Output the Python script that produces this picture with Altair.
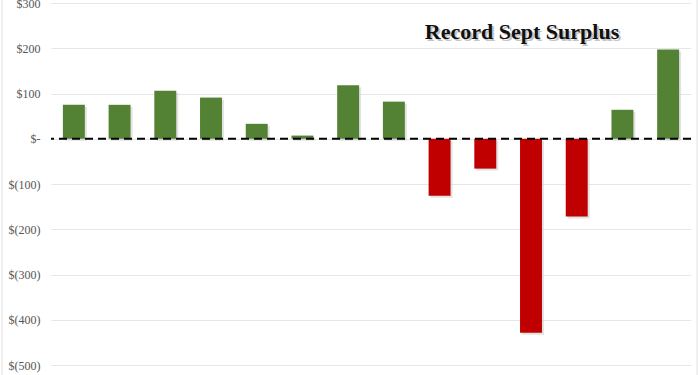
import altair as alt
import pandas as pd

months = ["Aug-11", "Sep-11", "Oct-11", "Nov-11", "Dec-11", "Jan-12", "Feb-12",
          "Mar-12", "Apr-12", "May-12", "Jun-12", "Jul-12", "Aug-12", "Sep-12"]
values = [75, 75, 106, 91, 33, 7, 118, 82, -126, -66, -429, -172, 64, 197]
tick_values = [300, 200, 100, 0, -100, -200, -300, -400, -500]
title_text = "Record Sept Surplus"

df = pd.DataFrame({"idx": list(range(len(months))), "month": months, "value": values})
df["sign"] = ["pos" if v >= 0 else "neg" for v in values]

xenc = alt.X("idx:O", axis=None, scale=alt.Scale(paddingInner=0.52, paddingOuter=0.26))
yscale = alt.Scale(domain=[-500, 300], nice=False)

label_expr = "datum.value == 0 ? '$-' : (datum.value < 0 ? '$(' + format(-datum.value, 'd') + ')' : '$' + format(datum.value, 'd'))"
yaxis = alt.Axis(values=tick_values, labelExpr=label_expr, ticks=False, domain=False,
                 grid=True, gridColor="#e6e6e6", gridWidth=1,
                 labelFont="Liberation Serif", labelFontSize=12, labelColor="#555555",
                 labelPadding=11)

shadow = alt.Chart(df).mark_bar(color="#cfcfcf", opacity=0.6, xOffset=2, yOffset=2).encode(
    x=xenc,
    y=alt.Y("value:Q", scale=yscale, title=None, axis=yaxis),
)

bars = alt.Chart(df).mark_bar().encode(
    x=xenc,
    y=alt.Y("value:Q", scale=yscale, title=None, axis=yaxis),
    color=alt.Color("sign:N", scale=alt.Scale(domain=["pos", "neg"], range=["#538234", "#c00000"]),
                    legend=None),
)

zero = alt.Chart(pd.DataFrame({"y": [0]})).mark_rule(color="black", strokeWidth=2, strokeDash=[8, 5]).encode(
    y=alt.Y("y:Q", scale=yscale, title=None, axis=yaxis)
)

one = pd.DataFrame({"k": [1]})
border_left = alt.Chart(one).mark_rule(color="#e2e2e2", strokeWidth=1).encode(
    x=alt.value(-49), y=alt.value(-3), y2=alt.value(372)
)
border_right = alt.Chart(one).mark_rule(color="#e2e2e2", strokeWidth=1).encode(
    x=alt.value(646), y=alt.value(-3), y2=alt.value(372)
)

title_shadow = alt.Chart(pd.DataFrame({"t": [title_text]})).mark_text(
    font="Liberation Serif", fontSize=22, fontWeight="bold", color="#c4c4c4", align="center"
).encode(text="t:N", x=alt.value(473), y=alt.value(31))

title = alt.Chart(pd.DataFrame({"t": [title_text]})).mark_text(
    font="Liberation Serif", fontSize=22, fontWeight="bold", color="#111111", align="center"
).encode(text="t:N", x=alt.value(471), y=alt.value(29))

chart = alt.layer(border_left, border_right, shadow, bars, zero, title_shadow, title).properties(
    width=640, height=362,
    padding={"left": 51, "top": 3, "right": 9, "bottom": 10},
    autosize=alt.AutoSizeParams(type="none"),
    background="white",
).configure_view(stroke="transparent", strokeWidth=0)

chart.save("out.html", embed_options={"renderer": "svg", "actions": False})
